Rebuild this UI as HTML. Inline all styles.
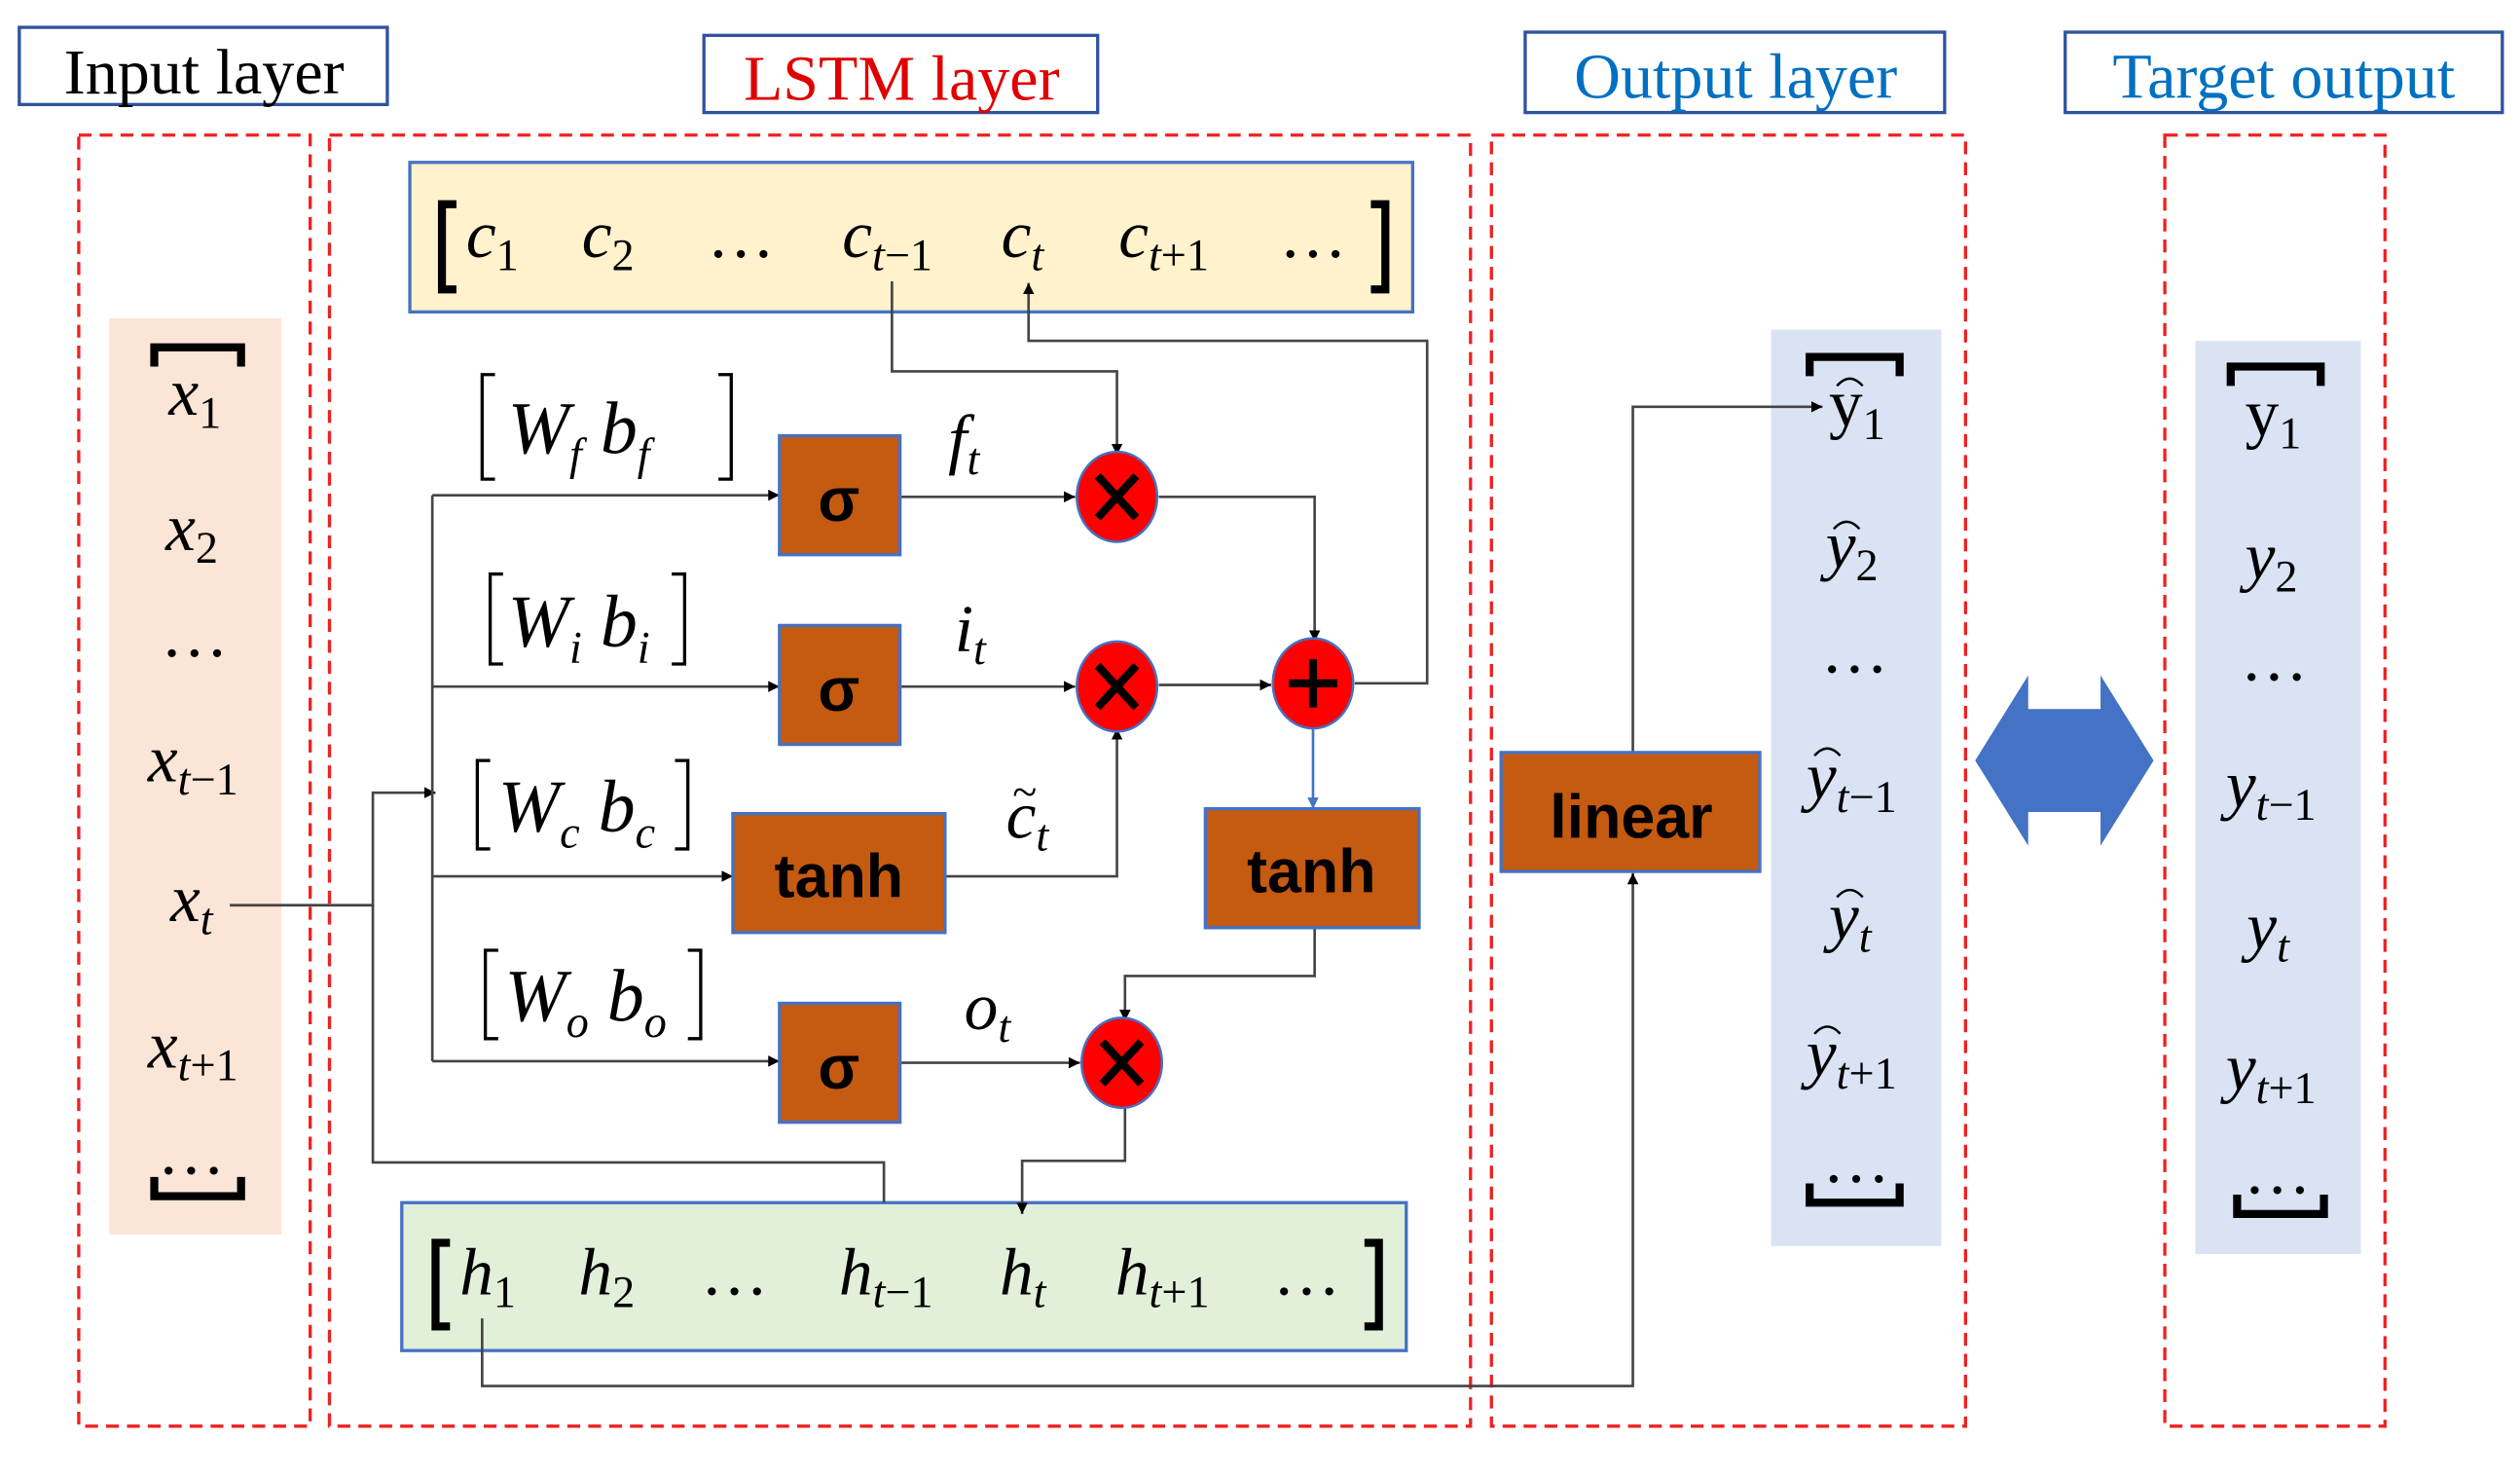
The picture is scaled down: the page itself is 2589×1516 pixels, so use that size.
<!DOCTYPE html>
<html><head><meta charset="utf-8"><style>
html,body{margin:0;padding:0;background:#fff;}
svg{display:block;}
.m{font-family:"Liberation Serif",serif;font-style:italic;fill:#000;}
.s{font-family:"Liberation Serif",serif;font-style:normal;}
.b{font-family:"Liberation Sans",sans-serif;font-weight:bold;fill:#000;}
</style></head><body>
<svg width="2589" height="1516" viewBox="0 0 1568 918" preserveAspectRatio="none" xmlns="http://www.w3.org/2000/svg">
<defs>
<marker id="a" viewBox="0 0 10 10" refX="10" refY="5" markerWidth="7" markerHeight="7" orient="auto" markerUnits="userSpaceOnUse"><path d="M0,0L10,5L0,10z" fill="#000"/></marker>
<marker id="ab" viewBox="0 0 10 10" refX="10" refY="5" markerWidth="7" markerHeight="7" orient="auto" markerUnits="userSpaceOnUse"><path d="M0,0L10,5L0,10z" fill="#4472c4"/></marker>
</defs>
<g fill="none" stroke="#2f52a0" stroke-width="2">
<rect x="12" y="17" width="229" height="48"/><rect x="438" y="22" width="245" height="48"/>
<rect x="949" y="20" width="261" height="50"/><rect x="1285" y="20" width="272" height="50"/>
</g>
<g font-family="Liberation Serif,serif" font-size="40" text-anchor="middle">
<text x="127" y="58" fill="#000">Input layer</text>
<text x="561" y="62" fill="#e00000">LSTM layer</text>
<text x="1080" y="61" fill="#0070c0">Output layer</text>
<text x="1421" y="61" fill="#0070c0">Target output</text>
</g>
<g fill="none" stroke="#f02020" stroke-width="2" stroke-dasharray="8,5">
<rect x="49" y="84" width="144" height="803"/><rect x="205" y="84" width="710" height="803"/>
<rect x="928" y="84" width="295" height="803"/><rect x="1347" y="84" width="137" height="803"/>
</g>
<rect x="68" y="198" width="107" height="570" fill="#fbe5d6"/>
<rect x="1102" y="205" width="106" height="570" fill="#dae3f3"/>
<rect x="1366" y="212" width="103" height="568" fill="#dae3f3"/>
<rect x="255" y="101" width="624" height="93" fill="#fff2cc" stroke="#4472c4" stroke-width="2"/>
<rect x="250" y="748" width="625" height="92" fill="#e2f0d9" stroke="#4472c4" stroke-width="2"/>
<g fill="none" stroke="#000" stroke-width="5">
<path d="M96,228V216H150V228"/><path d="M96,732V744H150V732"/>
<path d="M1126,234V222H1182V234"/><path d="M1126,736V748H1182V736"/>
<path d="M1388,240V228H1444V240"/><path d="M1392,743V755H1446V743"/>
<path d="M284,127H275V180H284"/><path d="M853,127H862V180H853"/>
<path d="M280,773H271V825H280"/><path d="M849,773H858V825H849"/>
</g>
<g fill="none" stroke="#000" stroke-width="2">
<path d="M308,233H300V298H308"/><path d="M447,233H455V298H447"/>
<path d="M313,357H305V413H313"/><path d="M418,357H426V413H418"/>
<path d="M305,473H297V528H305"/><path d="M420,473H428V528H420"/>
<path d="M310,591H302V646H310"/><path d="M428,591H436V646H428"/>
</g>
<g fill="none" stroke="#444" stroke-width="1.6">
<path d="M143,563H232V493H271" marker-end="url(#a)"/>
<path d="M232,563V723H550V748"/>
<path d="M269,308V660"/>
<path d="M269,308H485" marker-end="url(#a)"/>
<path d="M269,427H485" marker-end="url(#a)"/>
<path d="M269,545H456" marker-end="url(#a)"/>
<path d="M269,660H485" marker-end="url(#a)"/>
<path d="M560,309H669" marker-end="url(#a)"/>
<path d="M560,427H669" marker-end="url(#a)"/>
<path d="M560,661H672" marker-end="url(#a)"/>
<path d="M555,175V231H695V283" marker-end="url(#a)"/>
<path d="M721,309H818V399" marker-end="url(#a)"/>
<path d="M588,545H695V453" marker-end="url(#a)"/>
<path d="M721,426H791" marker-end="url(#a)"/>
<path d="M843,425H888V212H640V176" marker-end="url(#a)"/>
<path d="M818,577V607H700V635" marker-end="url(#a)"/>
<path d="M700,687V722H636V755" marker-end="url(#a)"/>
<path d="M300,820V862H1016V543" marker-end="url(#a)"/>
<path d="M1016,468V253H1134" marker-end="url(#a)"/>
</g>
<path d="M817,451V503" stroke="#4472c4" stroke-width="1.6" fill="none" marker-end="url(#ab)"/>
<g fill="#c55a11" stroke="#4472c4" stroke-width="2">
<rect x="485" y="271" width="75" height="74"/><rect x="485" y="389" width="75" height="74"/>
<rect x="485" y="624" width="75" height="74"/><rect x="456" y="506" width="132" height="74"/>
<rect x="750" y="503" width="133" height="74"/><rect x="934" y="468" width="161" height="74"/>
</g>
<g class="b" text-anchor="middle">
<text x="522" y="324" font-size="38">σ</text><text x="522" y="442" font-size="38">σ</text>
<text x="522" y="677" font-size="38">σ</text>
<text x="522" y="558" font-size="38">tanh</text><text x="816" y="555" font-size="38">tanh</text>
<text x="1015" y="521" font-size="38">linear</text>
</g>
<g fill="#ff0000" stroke="#4472c4" stroke-width="1.5">
<ellipse cx="695" cy="309" rx="25" ry="28"/><ellipse cx="695" cy="427" rx="25" ry="28"/>
<ellipse cx="698" cy="661" rx="25" ry="28"/><ellipse cx="817" cy="425" rx="25" ry="28"/>
</g>
<g stroke="#000" stroke-width="5">
<path d="M683,296L707,322M707,296L683,322"/><path d="M683,414L707,440M707,414L683,440"/>
<path d="M686,648L710,674M710,648L686,674"/><path d="M817,410V440M802,425H832"/>
</g>
<path d="M1229,473L1262,420V441H1307V420L1340,473L1307,526V505H1262V526Z" fill="#4472c4"/>
<g class="m" font-size="42">
<text x="290" y="160">c<tspan class="s" font-size="28" dy="8">1</tspan></text>
<text x="362" y="160">c<tspan class="s" font-size="28" dy="8">2</tspan></text>
<text x="440" y="160" class="s">…</text>
<text x="524" y="160">c<tspan font-size="28" dy="8">t</tspan><tspan class="s" font-size="28">−1</tspan></text>
<text x="623" y="160">c<tspan font-size="28" dy="8">t</tspan></text>
<text x="696" y="160">c<tspan font-size="28" dy="8">t</tspan><tspan class="s" font-size="28">+1</tspan></text>
<text x="796" y="160" class="s">…</text>
<text x="286" y="805">h<tspan class="s" font-size="28" dy="8">1</tspan></text>
<text x="360" y="805">h<tspan class="s" font-size="28" dy="8">2</tspan></text>
<text x="436" y="805" class="s">…</text>
<text x="522" y="805">h<tspan font-size="28" dy="8">t</tspan><tspan class="s" font-size="28">−1</tspan></text>
<text x="622" y="805">h<tspan font-size="28" dy="8">t</tspan></text>
<text x="694" y="805">h<tspan font-size="28" dy="8">t</tspan><tspan class="s" font-size="28">+1</tspan></text>
<text x="792" y="805" class="s">…</text>
</g>
<g class="m" font-size="46">
<text x="316" y="282">W<tspan font-size="28" dy="10">f</tspan><tspan dy="-10"> b</tspan><tspan font-size="28" dy="10">f</tspan></text>
<text x="316" y="402">W<tspan font-size="28" dy="10">i</tspan><tspan dy="-10">  b</tspan><tspan font-size="28" dy="10">i</tspan></text>
<text x="310" y="517">W<tspan font-size="28" dy="10">c</tspan><tspan dy="-10">  b</tspan><tspan font-size="28" dy="10">c</tspan></text>
<text x="314" y="635">W<tspan font-size="28" dy="10">o</tspan><tspan dy="-10">  b</tspan><tspan font-size="28" dy="10">o</tspan></text>
</g>
<g class="m" font-size="42">
<text x="590" y="287">f<tspan font-size="28" dy="8">t</tspan></text>
<text x="594" y="405">i<tspan font-size="28" dy="8">t</tspan></text>
<text x="626" y="521">c<tspan font-size="28" dy="8">t</tspan></text>
<text x="630" y="502" class="s" font-size="28">~</text>
<text x="600" y="640">o<tspan font-size="28" dy="8">t</tspan></text>
<text x="105" y="258">x<tspan class="s" font-size="28" dy="8">1</tspan></text>
<text x="103" y="342">x<tspan class="s" font-size="28" dy="8">2</tspan></text>
<text x="100" y="408" class="s">…</text>
<text x="92" y="486">x<tspan font-size="28" dy="8">t</tspan><tspan class="s" font-size="28">−1</tspan></text>
<text x="106" y="573">x<tspan font-size="28" dy="8">t</tspan></text>
<text x="92" y="664">x<tspan font-size="28" dy="8">t</tspan><tspan class="s" font-size="28">+1</tspan></text>
<text x="98" y="730" class="s">…</text>
<text x="1138" y="265" class="s">y<tspan font-size="28" dy="8">1</tspan></text>
<text x="1136" y="353">y<tspan class="s" font-size="28" dy="8">2</tspan></text>
<text x="1133" y="418" class="s">…</text>
<text x="1124" y="497">y<tspan font-size="28" dy="8">t</tspan><tspan class="s" font-size="28">−1</tspan></text>
<text x="1138" y="584">y<tspan font-size="28" dy="8">t</tspan></text>
<text x="1124" y="669">y<tspan font-size="28" dy="8">t</tspan><tspan class="s" font-size="28">+1</tspan></text>
<text x="1134" y="735" class="s">…</text>
<text x="1397" y="271" class="s">y<tspan font-size="28" dy="8">1</tspan></text>
<text x="1397" y="360">y<tspan class="s" font-size="28" dy="8">2</tspan></text>
<text x="1394" y="423" class="s">…</text>
<text x="1385" y="502">y<tspan font-size="28" dy="8">t</tspan><tspan class="s" font-size="28">−1</tspan></text>
<text x="1398" y="590">y<tspan font-size="28" dy="8">t</tspan></text>
<text x="1385" y="678">y<tspan font-size="28" dy="8">t</tspan><tspan class="s" font-size="28">+1</tspan></text>
<text x="1396" y="742" class="s">…</text>
</g>
<g fill="none" stroke="#000" stroke-width="1.5">
<path d="M1143,240Q1151,231 1159,240"/><path d="M1141,329Q1149,320 1157,329"/>
<path d="M1129,470Q1137,461 1145,470"/><path d="M1143,558Q1151,549 1159,558"/>
<path d="M1129,643Q1137,634 1145,643"/>
</g>
</svg>
</body></html>
